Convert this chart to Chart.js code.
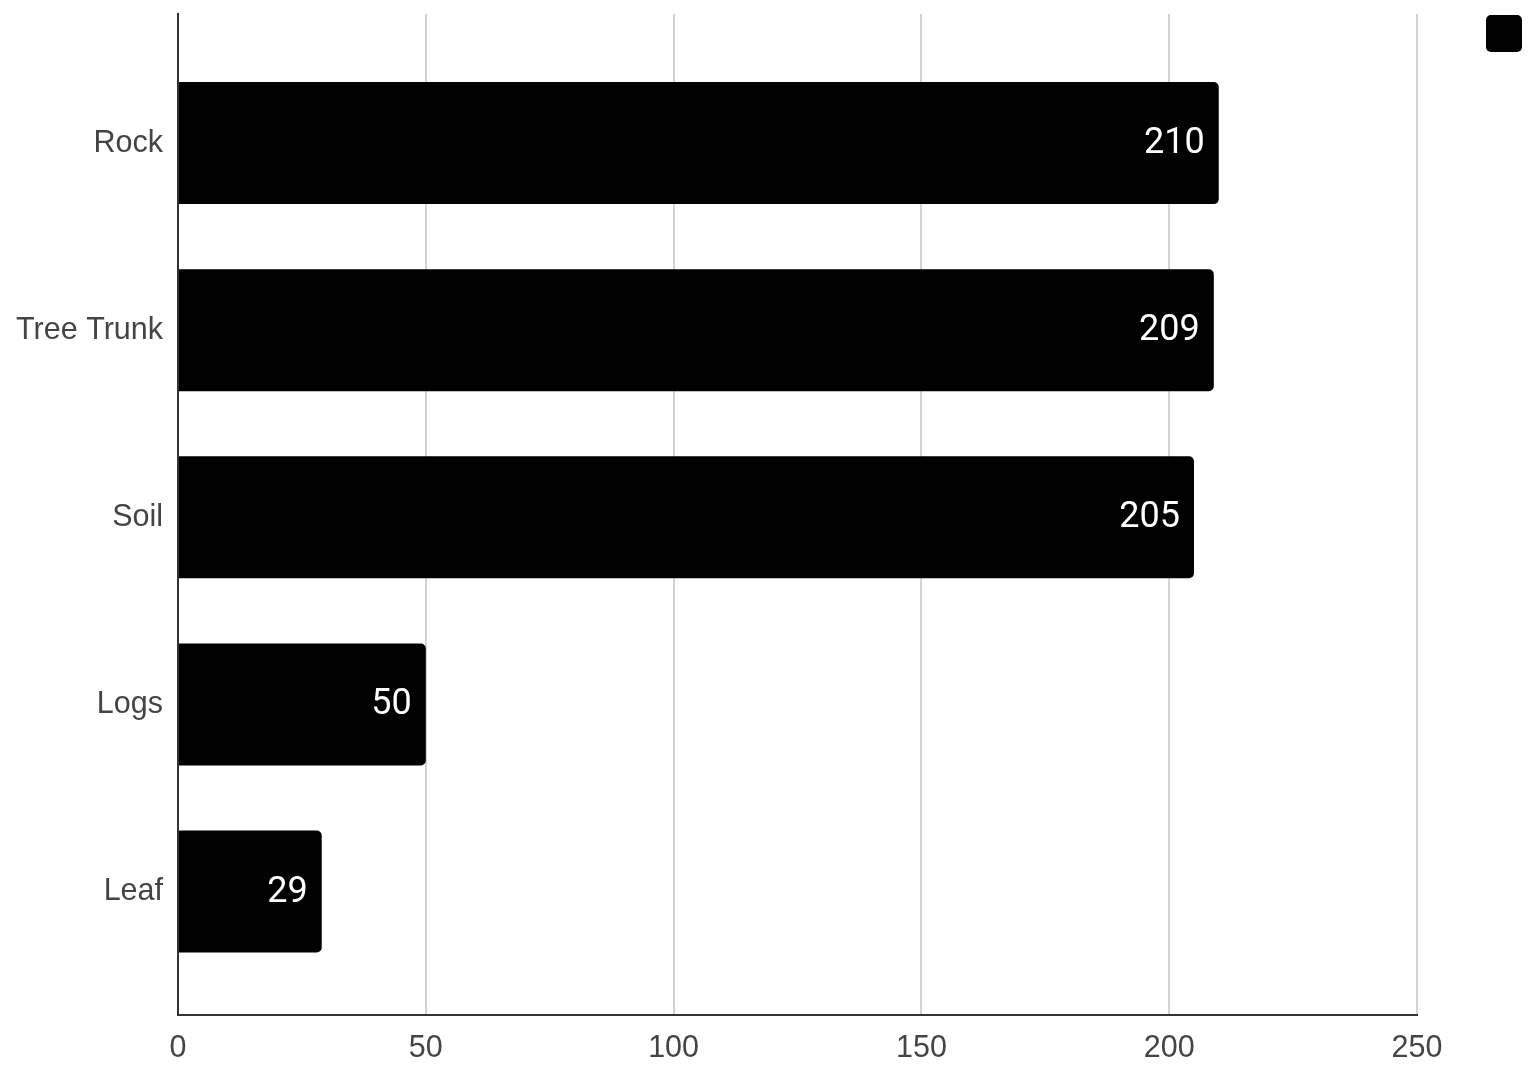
<!DOCTYPE html>
<html>
<head>
<meta charset="utf-8">
<script src="https://cdn.jsdelivr.net/npm/chart.js@4.4.0/dist/chart.umd.min.js"></script>
<style>
  html, body { margin: 0; padding: 0; background: #fff; }
  #wrap { width: 1528px; height: 1069px; }
</style>
</head>
<body>
<div id="wrap"><canvas id="grafico"></canvas></div>
<script>
const CATEGORIAS = ['Rock', 'Tree Trunk', 'Soil', 'Logs', 'Leaf'];
const VALORES = [210, 209, 205, 50, 29];
const TICKS_X = [0, 50, 100, 150, 200, 250];

const COLOR_BARRA = '#000000';
const COLOR_TEXTO = '#444444';
const COLOR_GRILLA = '#d3d3d3';
const COLOR_EJE = '#333333';

// etiquetas blancas dentro del final de cada barra
const etiquetasBarras = {
  id: 'etiquetasBarras',
  afterDatasetsDraw(chart) {
    const ctx = chart.ctx;
    const meta = chart.getDatasetMeta(0);
    ctx.save();
    ctx.fillStyle = '#ffffff';
    ctx.font = '400 36px Roboto, "Noto Sans", sans-serif';
    ctx.textAlign = 'right';
    ctx.textBaseline = 'middle';
    meta.data.forEach((barra, i) => {
      ctx.fillText(String(VALORES[i]), barra.x - 14, barra.y + 1);
    });
    ctx.restore();
  }
};

// cuadrado de leyenda sin texto, arriba a la derecha
const leyendaCuadro = {
  id: 'leyendaCuadro',
  afterDraw(chart) {
    const ctx = chart.ctx;
    const lado = 36;
    const x = chart.width - 6 - lado;
    const y = 15;
    ctx.save();
    ctx.fillStyle = chart.data.datasets[0].backgroundColor;
    ctx.beginPath();
    if (ctx.roundRect) {
      ctx.roundRect(x, y, lado, lado + 1, 5);
    } else {
      ctx.rect(x, y, lado, lado + 1);
    }
    ctx.fill();
    ctx.restore();
  }
};

const ctx = document.getElementById('grafico');

new Chart(ctx, {
  type: 'bar',
  data: {
    datasets: [{
      data: CATEGORIAS.map((c, i) => ({ y: i, x: VALORES[i] })),
      backgroundColor: COLOR_BARRA,
      borderRadius: 5,
      borderSkipped: 'start',
      categoryPercentage: 1,
      barPercentage: 0.652
    }]
  },
  options: {
    indexAxis: 'y',
    responsive: true,
    maintainAspectRatio: false,
    animation: false,
    layout: {
      padding: { top: 14, right: 111, bottom: 0, left: 0 }
    },
    plugins: {
      legend: { display: false },
      tooltip: { enabled: false }
    },
    scales: {
      x: {
        type: 'linear',
        position: 'bottom',
        min: TICKS_X[0],
        max: TICKS_X[TICKS_X.length - 1],
        afterBuildTicks: (s) => { s.ticks = TICKS_X.map(v => ({ value: v })); },
        afterFit: (s) => { s.height = 54; s.paddingLeft = 0; s.paddingRight = 0; },
        ticks: {
          color: COLOR_TEXTO,
          padding: 15,
          font: { family: '"Liberation Sans", Arial, sans-serif', size: 30.5 }
        },
        grid: {
          color: COLOR_GRILLA,
          lineWidth: 2,
          drawTicks: false
        },
        border: { display: true, color: COLOR_EJE, width: 2 }
      },
      y: {
        type: 'linear',
        position: 'left',
        reverse: true,
        offset: false,
        bounds: 'data',
        min: -0.69,
        max: 4.66,
        afterBuildTicks: (s) => { s.ticks = CATEGORIAS.map((c, i) => ({ value: i })); },
        afterFit: (s) => { s.width = 178; s.paddingTop = 0; s.paddingBottom = 0; },
        ticks: {
          color: COLOR_TEXTO,
          padding: 15,
          font: { family: '"Liberation Sans", Arial, sans-serif', size: 30.5 },
          callback: (v) => CATEGORIAS[v]
        },
        grid: { display: false, drawTicks: false, offset: false },
        border: { display: true, color: COLOR_EJE, width: 2 }
      }
    }
  },
  plugins: [etiquetasBarras, leyendaCuadro]
});
</script>
</body>
</html>
